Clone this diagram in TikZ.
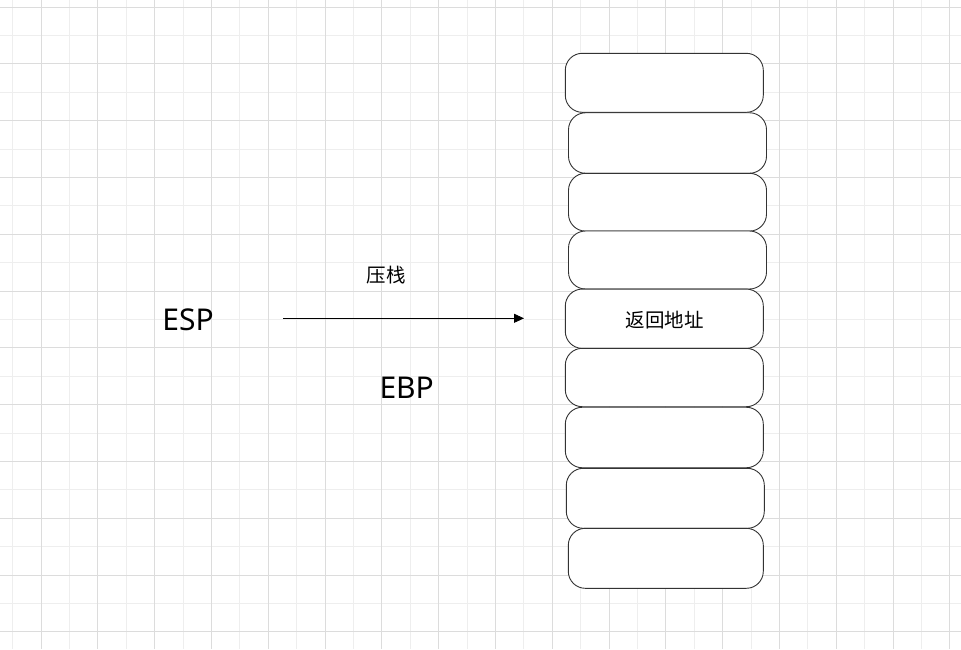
\documentclass[tikz,border=0pt]{standalone}
\usepackage{fontspec}
\setmainfont{Noto Sans}
\newfontfamily\cjk{Noto Sans CJK SC}
\usetikzlibrary{arrows.meta}
\definecolor{gridminor}{HTML}{EEEEEE}
\definecolor{gridmajor}{HTML}{DCDCDC}
\definecolor{boxline}{HTML}{333333}
\tikzset{
  cell/.style={draw=boxline, line width=0.9pt, fill=white, rounded corners=17pt,
    rectangle, inner sep=0pt, minimum width=198pt, minimum height=59pt},
  bigtxt/.style={font=\fontsize{30}{36}\selectfont, text=black, inner sep=0pt},
  cjktxt/.style={font=\cjk\fontsize{19.5}{23}\selectfont, text=black, inner sep=0pt},
  pusharrow/.style={draw=black, line width=0.9pt, -{Triangle[length=10pt,width=9pt]}}
}
\begin{document}
\begin{tikzpicture}[x=1pt,y=-1pt]
\useasboundingbox (0,0) rectangle (961,649);
\fill[white] (0,0) rectangle (961,649);
% grid
\foreach \i in {0,...,34} {
  \pgfmathsetmacro{\gx}{12.6+28.4*\i}
  \draw[gridminor, line width=0.9pt] (\gx,0) -- (\gx,649);
}
\foreach \i in {0,...,23} {
  \pgfmathsetmacro{\gy}{-21.4+28.4*\i}
  \draw[gridminor, line width=0.9pt] (0,\gy) -- (961,\gy);
}
\foreach \i in {0,...,16} {
  \pgfmathsetmacro{\gx}{41+56.8*\i}
  \draw[gridmajor, line width=0.9pt] (\gx,0) -- (\gx,649);
}
\foreach \i in {0,...,11} {
  \pgfmathsetmacro{\gy}{7+56.8*\i}
  \draw[gridmajor, line width=0.9pt] (0,\gy) -- (961,\gy);
}
% stack cells
\node[cell, minimum height=59pt] (b1) at (664.3,82.8) {};
\node[cell, minimum height=60.5pt] (b2) at (667.5,143) {};
\node[cell, minimum height=57.8pt] (b3) at (667.5,202.2) {};
\node[cell, minimum height=58pt] (b4) at (667.5,260) {};
\node[cell, minimum height=59.3pt] (b5) at (664.3,318.7) {};
\node[cell, minimum height=58.4pt] (b6) at (664.3,377.5) {};
\node[cell, minimum height=60.5pt] (b7) at (664.3,437.5) {};
\node[cell, minimum height=60pt] (b8) at (665.3,498.3) {};
\node[cell, minimum height=60pt, minimum width=195pt] (b9) at (665.8,558.3) {};
\node[cjktxt] (ret) at (664.5,320.5) {返回地址};
% labels
\node[bigtxt] (esp) at (188,320) {ESP};
\node[bigtxt] (ebp) at (406.7,388) {EBP};
\node[cjktxt] (push) at (386,275.5) {压栈};
% arrow
\coordinate (a0) at (283.3,318.3);
\coordinate (a1) at (524,318.3);
\draw[pusharrow] (a0) -- (a1);
\end{tikzpicture}
\end{document}
